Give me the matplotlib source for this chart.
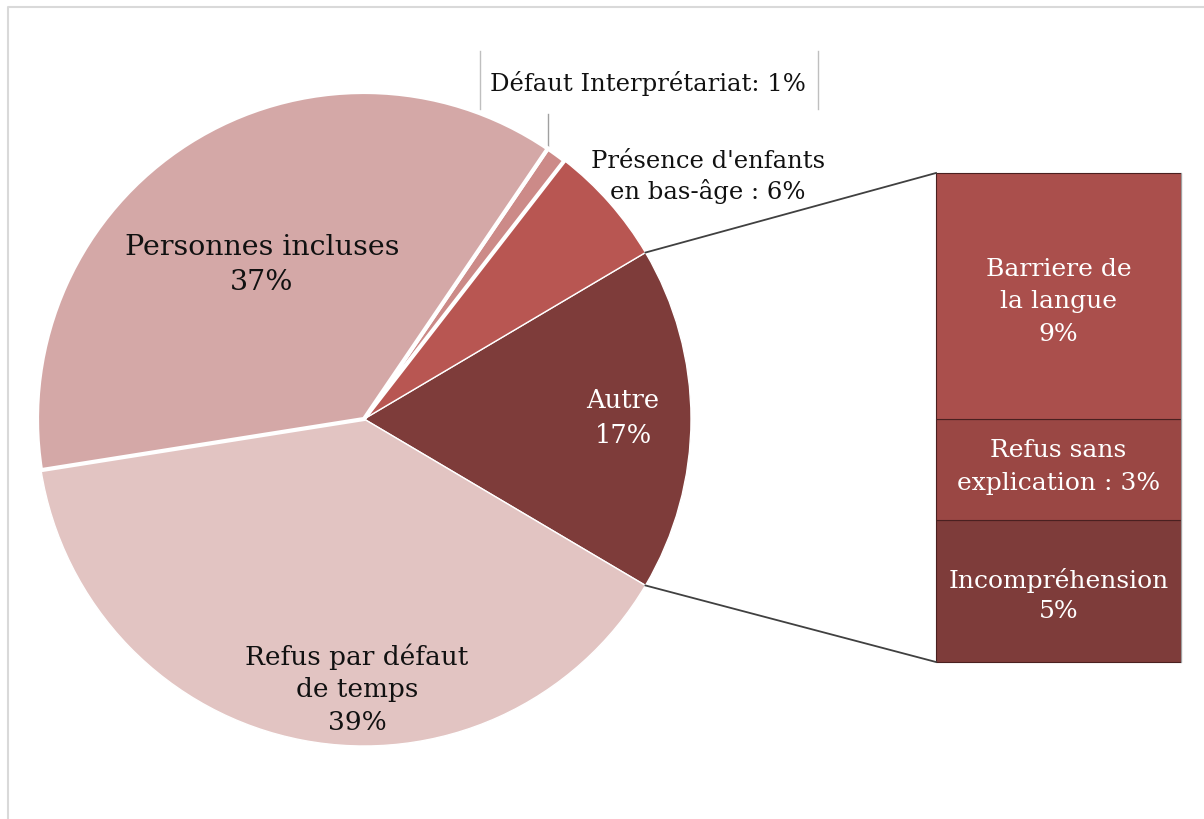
import matplotlib
matplotlib.use("Agg")
import matplotlib.pyplot as plt
import numpy as np

plt.rcParams['font.family'] = ['DejaVu Serif']

# Data
pie_labels = ["Autre", "Présence d'enfants en bas-âge", "Défaut Interprétariat",
              "Personnes incluses", "Refus par défaut de temps"]
pie_values = [17, 6, 1, 37, 39]
pie_colors = ["#7E3C3A", "#B85652", "#CC8A88", "#D4A8A7", "#E2C4C2"]

bar_labels = ["Incompréhension", "Refus sans explication", "Barriere de la langue"]
bar_values = [4.9, 3.5, 8.5]
bar_colors = ["#7E3C3A", "#9A4744", "#AA4F4C"]

W, H = 1204, 820
fig = plt.figure(figsize=(W / 100, H / 100), dpi=100)
ax = fig.add_axes([0, 0, 1, 1])

# frame
ax.plot([8, 8, W + 5], [-5, H - 8, H - 8], color="#D9D9D9", lw=1.5)

cx, cy, R = 364, 400, 327
total = sum(pie_values)
start = -pie_values[0] / total * 360 / 2
wedges, _ = ax.pie(pie_values, colors=pie_colors, startangle=start, counterclock=True,
                   center=(cx, cy), radius=R, frame=True,
                   wedgeprops=dict(edgecolor="white", linewidth=1))
ax.set_xlim(0, W)
ax.set_ylim(0, H)
ax.set_aspect('equal')
ax.axis('off')
for i, w in enumerate(wedges):
    if i in (2, 3):
        w.set_linewidth(3)
        w.set_zorder(3)
    else:
        w.set_zorder(2)

# bar of pie
bx_left, bx_right = 936, 1181
by_bottom, by_top = 157, 646
scale = (by_top - by_bottom) / sum(bar_values)
bottom = by_bottom
bar_mids = []
for v, c in zip(bar_values, bar_colors):
    ax.bar((bx_left + bx_right) / 2, v * scale, width=bx_right - bx_left, bottom=bottom,
           color=c, edgecolor="#4a2020", linewidth=0.8, zorder=3)
    bar_mids.append(bottom + v * scale / 2)
    bottom += v * scale
ax.plot([bx_right, bx_right], [by_bottom, by_top], color="#A0A0A0", lw=0.8, zorder=4)

# connector lines
half = pie_values[0] / total * np.pi
p_top = (cx + R * np.cos(half), cy + R * np.sin(half))
p_bot = (cx + R * np.cos(-half), cy + R * np.sin(-half))
ax.plot([p_top[0], bx_left], [p_top[1], by_top], color="#404040", lw=1.3, zorder=4)
ax.plot([p_bot[0], bx_left], [p_bot[1], by_bottom], color="#404040", lw=1.3, zorder=4)

# labels
ax.text(262, H - 265, "Personnes incluses\n37%", ha="center", va="center",
        fontsize=20.5, color="#111111", linespacing=1.4, zorder=5)
ax.text(357, H - 689, "Refus par défaut\nde temps\n39%", ha="center", va="center",
        fontsize=19, color="#111111", linespacing=1.38, zorder=5)
ax.text(623, H - 418, "Autre\n17%", ha="center", va="center",
        fontsize=18.5, color="white", linespacing=1.5, zorder=5)
ax.text(708, H - 177, "Présence d'enfants\nen bas-âge : 6%", ha="center", va="center",
        fontsize=17.5, color="#111111", linespacing=1.34, zorder=5)
ax.text(648, H - 83, "Défaut Interprétariat: 1%", ha="center", va="center",
        fontsize=17.5, color="#111111", zorder=5)
# callout borders for Défaut label
ax.plot([480, 480], [H - 52, H - 110], color="#BFBFBF", lw=1)
ax.plot([818, 818], [H - 52, H - 110], color="#BFBFBF", lw=1)
ax.plot([548, 548], [H - 115, H - 148], color="#A0A0A0", lw=1)

bar_texts = ["Incompréhension\n5%", "Refus sans\nexplication : 3%", "Barriere de\nla langue\n9%"]
bar_offsets = [-3, 4, -5]
bar_spacing = [1.4, 1.55, 1.55]
for t, m, off, ls in zip(bar_texts, bar_mids, bar_offsets, bar_spacing):
    ax.text((bx_left + bx_right) / 2, m + off, t, ha="center", va="center",
            fontsize=18, color="white", linespacing=ls, zorder=5)

fig.savefig("out.png", dpi=100)
